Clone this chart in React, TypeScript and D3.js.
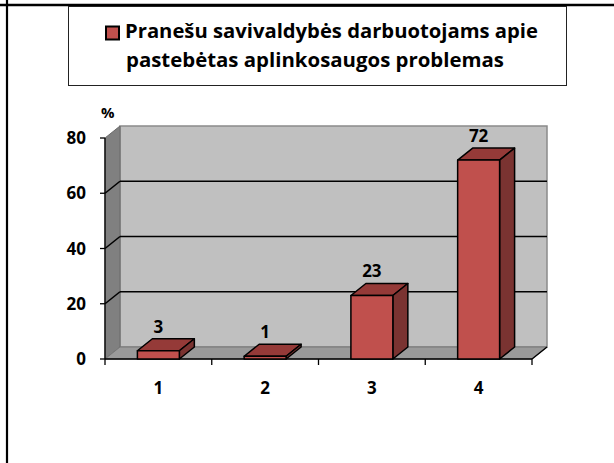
import React from "react";
import * as d3 from "d3";

const categories = ["1", "2", "3", "4"];
const values = [3, 1, 23, 72];
const yTicks = [0, 20, 40, 60, 80];
const legendLines = ["Pranešu savivaldybės darbuotojams apie", "pastebėtas aplinkosaugos problemas"];

const W = 614;
const H = 463;
const DX = 15;
const DY = -12;
const FONT = "'Open Sans', Lato, 'Noto Sans', sans-serif";

export default function App() {
  const y = d3.scaleLinear().domain([0, 80]).range([359, 138]);
  const x = d3.scaleBand<string>().domain(categories).range([105, 532]).paddingInner(0).paddingOuter(0);
  const bw = x.bandwidth() * 0.393;
  const left = x.range()[0];
  const right = x.range()[1];
  const y0 = y(0);
  const yTop = y(80);

  const pts = (arr: number[][]) => arr.map((p) => p.join(",")).join(" ");

  return (
    <svg width={W} height={H} style={{ position: "absolute", left: 0, top: 0, background: "#fff" }} fontFamily={FONT}>
      {/* frame borders */}
      <line x1={0} x2={W} y1={5} y2={5} stroke="#000" strokeWidth={2.5} />
      <line x1={7} x2={7} y1={0} y2={H} stroke="#000" strokeWidth={2.2} />

      {/* legend */}
      <rect x={68.5} y={6.5} width={498} height={79} fill="#fff" stroke="#222" strokeWidth={1} />
      <rect x={106} y={26.5} width={13} height={13} fill="#C0504D" stroke="#000" strokeWidth={2} />
      <text x={125} y={38} fontSize={19} fontWeight="bold" textLength={413} lengthAdjust="spacingAndGlyphs">
        {legendLines[0]}
      </text>
      <text x={126} y={67} fontSize={19} fontWeight="bold" textLength={378} lengthAdjust="spacingAndGlyphs">
        {legendLines[1]}
      </text>

      {/* back wall */}
      <polygon
        points={pts([[left + DX, yTop + DY], [right + DX, yTop + DY], [right + DX, y0 + DY], [left + DX, y0 + DY]])}
        fill="#C0C0C0"
        stroke="#8a8a8a"
        strokeWidth={1.5}
      />
      {/* left wall */}
      <polygon
        points={pts([[left, yTop], [left + DX, yTop + DY], [left + DX, y0 + DY], [left, y0]])}
        fill="#808080"
        stroke="#6a6a6a"
        strokeWidth={1}
      />
      {/* floor */}
      <polygon
        points={pts([[left, y0], [left + DX, y0 + DY], [right + DX, y0 + DY], [right, y0]])}
        fill="#9A9A9A"
        stroke="#777"
        strokeWidth={1}
      />

      {/* gridlines */}
      {yTicks
        .filter((t) => t > 0 && t < 80)
        .map((t) => (
          <g key={"g" + t}>
            <line x1={left} y1={y(t)} x2={left + DX} y2={y(t) + DY} stroke="#000" strokeWidth={1.6} />
            <line x1={left + DX} y1={y(t) + DY} x2={right + DX} y2={y(t) + DY} stroke="#000" strokeWidth={1.6} />
          </g>
        ))}

      {/* y axis */}
      <line x1={left} x2={left} y1={yTop} y2={y0} stroke="#000" strokeWidth={1.3} />
      {yTicks.map((t) => (
        <g key={"t" + t}>
          <line x1={left - 5} x2={left} y1={y(t)} y2={y(t)} stroke="#000" strokeWidth={1.3} />
          <text x={86} y={y(t) + 6} textAnchor="end" fontSize={17} fontWeight="bold">
            {t}
          </text>
        </g>
      ))}
      <text x={101} y={118} fontSize={15} fontWeight="bold">
        %
      </text>

      {/* x axis */}
      <line x1={left} x2={right} y1={y0} y2={y0} stroke="#000" strokeWidth={1.5} />
      <line x1={right} y1={y0} x2={right + DX} y2={y0 + DY} stroke="#000" strokeWidth={1.5} />
      {[...categories.map((c) => x(c) as number), right].map((px, i) => (
        <line key={"xt" + i} x1={px} x2={px} y1={y0} y2={y0 + 6} stroke="#000" strokeWidth={1.3} />
      ))}
      {categories.map((c) => (
        <text key={"xl" + c} x={(x(c) as number) + x.bandwidth() / 2} y={394} textAnchor="middle" fontSize={17} fontWeight="bold">
          {c}
        </text>
      ))}

      {/* bars */}
      {categories.map((c, i) => {
        const v = values[i];
        const x0 = (x(c) as number) + (x.bandwidth() - bw) / 2;
        const x1 = x0 + bw;
        const yv = y(v);
        return (
          <g key={"b" + c} stroke="#000" strokeWidth={1.5} strokeLinejoin="round">
            <polygon points={pts([[x0, yv], [x0 + DX, yv + DY], [x1 + DX, yv + DY], [x1, yv]])} fill="#953A38" />
            <polygon points={pts([[x1, yv], [x1 + DX, yv + DY], [x1 + DX, y0 + DY], [x1, y0]])} fill="#7A3331" />
            <rect x={x0} y={yv} width={bw} height={y0 - yv} fill="#C0504D" />
            <text x={x0 + bw / 2} y={yv + DY - 6} textAnchor="middle" fontSize={17} fontWeight="bold" stroke="none" fill="#000">
              {v}
            </text>
          </g>
        );
      })}
    </svg>
  );
}
